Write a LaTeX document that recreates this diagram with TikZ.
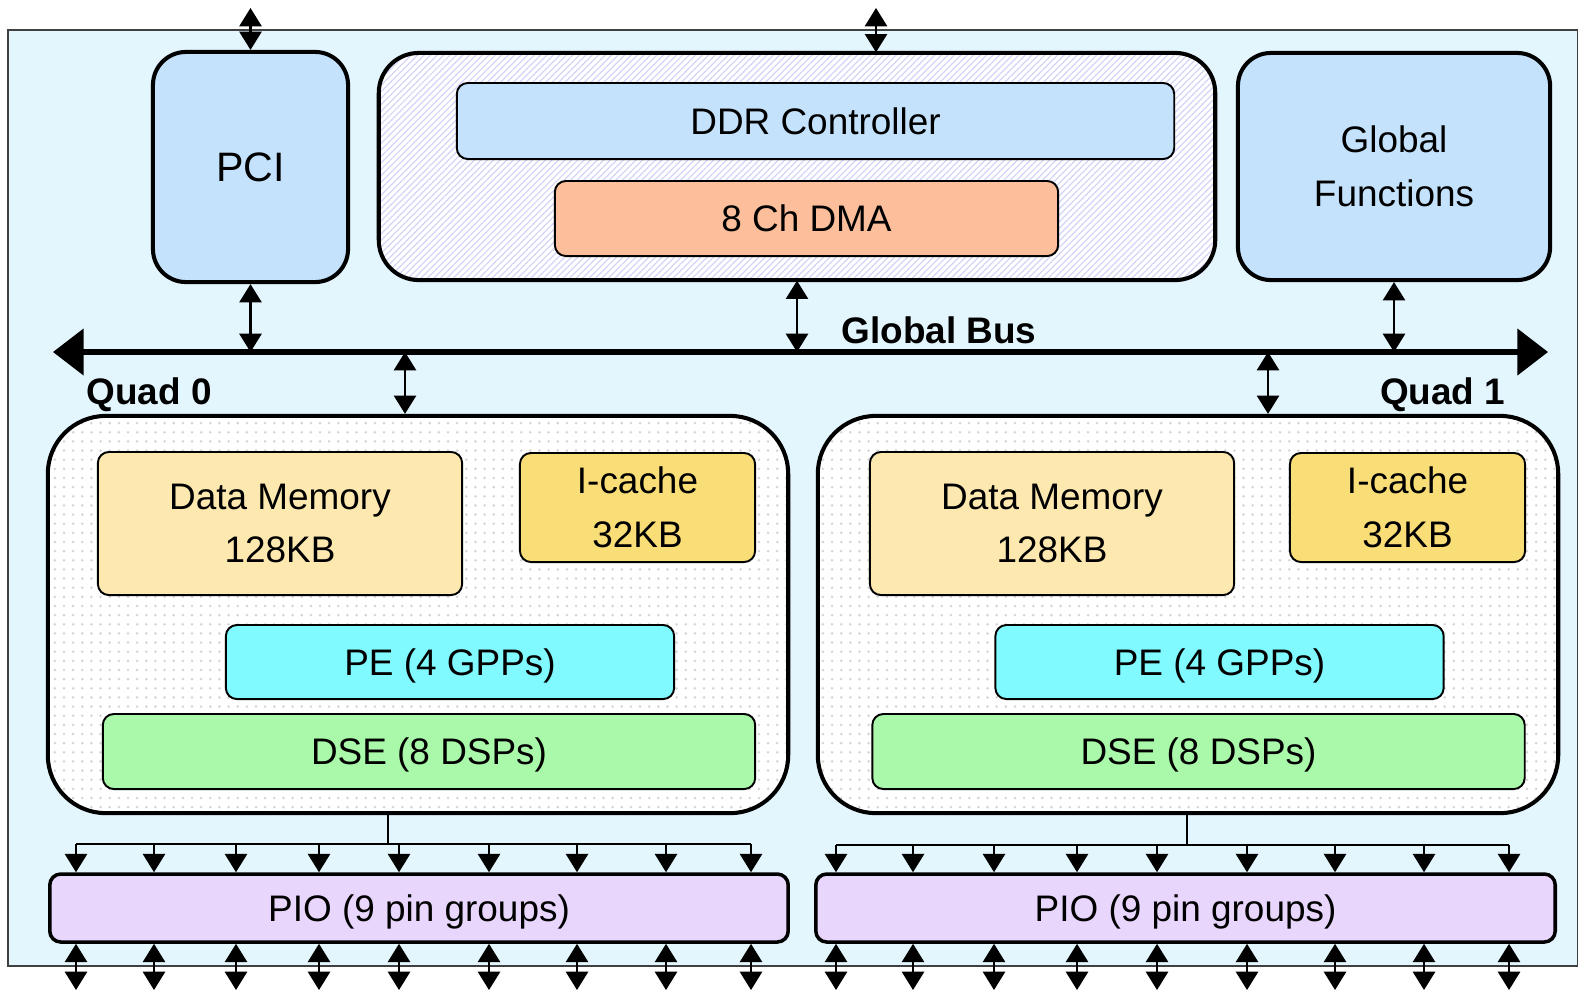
\documentclass[tikz,border=0pt]{standalone}
\usepackage{fontspec}
\setmainfont{Liberation Sans}
\usetikzlibrary{arrows.meta,positioning,patterns.meta}

\definecolor{fondpuce}{RGB}{227,245,253}
\definecolor{bleuclair}{RGB}{196,226,252}
\definecolor{saumon}{RGB}{253,190,156}
\definecolor{jaunepale}{RGB}{253,233,176}
\definecolor{jaune}{RGB}{249,221,119}
\definecolor{cyanpe}{RGB}{128,250,255}
\definecolor{vertdse}{RGB}{170,248,170}
\definecolor{mauve}{RGB}{232,214,252}
\definecolor{hachure}{RGB}{212,212,248}
\definecolor{points}{RGB}{212,212,212}

\begin{document}
\begin{tikzpicture}[
    x=0.01cm, y=-0.01cm,
    >={Triangle[length=5.2pt,width=6.3pt]},
    police/.style={
        font=\fontsize{10.5}{15.2}\selectfont
    },
    gras/.style={
        font=\fontsize{10.5}{15.2}\selectfont\bfseries,
        inner sep=0pt
    },
    bloc/.style={
        draw,
        rounded corners=0.33cm,
        line width=1.15pt,
        inner sep=0pt,
        align=center,
        police
    },
    petit/.style={
        draw,
        rounded corners=0.11cm,
        line width=0.55pt,
        inner sep=0pt,
        align=center,
        police
    },
    uneligne/.style={
        text depth=0pt
    },
    quad/.style={
        bloc,
        rounded corners=0.58cm,
        preaction={fill=white},
        pattern={Dots[distance=2.6pt,radius=0.4pt]},
        pattern color=points,
        minimum width=7.4cm,
        minimum height=3.97cm
    },
    pio/.style={
        bloc,
        uneligne,
        rounded corners=0.11cm,
        line width=1pt,
        fill=mauve,
        minimum height=0.68cm
    },
    fleche/.style={
        <->,
        line width=0.6pt
    },
    descente/.style={
        ->,
        line width=0.55pt
    },
    ligne/.style={
        line width=0.55pt
    },
    bus/.style={
        {Triangle[length=8.7pt,width=13pt]}-{Triangle[length=8.7pt,width=13pt]},
        line width=1.5pt
    }
]
\useasboundingbox (0,0) rectangle (1583,990);

% fond de la puce
\node[draw=black!75, line width=0.55pt, fill=fondpuce, minimum width=15.69cm,
      minimum height=9.36cm, inner sep=0pt] (puce) at (792.5,498) {};

% blocs du haut
\node[bloc, fill=bleuclair, minimum width=1.95cm, minimum height=2.3cm,
      font=\fontsize{11.7}{15}\selectfont] (pci) at (250.5,167) {PCI};

\node[bloc, rounded corners=0.4cm, preaction={fill=white},
      pattern={Lines[angle=45,distance=1.3pt,line width=0.35pt]}, pattern color=hachure,
      minimum width=8.36cm, minimum height=2.27cm] (ddr) at (797,166.5) {};
\node[petit, fill=bleuclair, minimum width=7.17cm, minimum height=0.76cm]
      (ddrc) at (815.5,121) {DDR Controller};
\node[petit, fill=saumon, minimum width=5.03cm, minimum height=0.75cm]
      (dma) at (806.5,218.5) {8 Ch DMA};

\node[bloc, fill=bleuclair, minimum width=3.12cm, minimum height=2.27cm]
      (gf) at (1394,166.5) {Global\\Functions};

% bus global
\coordinate (busg) at (53,352);
\coordinate (busd) at (1548,352);
\draw[bus] (busg) -- (busd);
\node[gras] (lbus) at (939,330) {Global Bus};

% quads
\node[quad] (quad0) at (418,614.5) {};
\node[quad] (quad1) at (1188,614.5) {};
\node[gras, anchor=west] (lq0) at (86,395) {Quad 0};
\node[gras, anchor=east] (lq1) at (1506,395) {Quad 1};

\node[petit, fill=jaunepale, minimum width=3.64cm, minimum height=1.43cm]
      (dm0) at (280,523.5) {Data Memory\\128KB};
\node[petit, fill=jaune, minimum width=2.35cm, minimum height=1.09cm]
      (ic0) at (637.5,507.5) {I-cache\\32KB};
\node[petit, uneligne, fill=cyanpe, minimum width=4.48cm, minimum height=0.74cm]
      (pe0) at (450,662) {PE (4 GPPs)};
\node[petit, uneligne, fill=vertdse, minimum width=6.52cm, minimum height=0.75cm]
      (dse0) at (429,751.5) {DSE (8 DSPs)};

\node[petit, fill=jaunepale, minimum width=3.64cm, minimum height=1.43cm]
      (dm1) at (1052,523.5) {Data Memory\\128KB};
\node[petit, fill=jaune, minimum width=2.35cm, minimum height=1.09cm]
      (ic1) at (1407.5,507.5) {I-cache\\32KB};
\node[petit, uneligne, fill=cyanpe, minimum width=4.48cm, minimum height=0.74cm]
      (pe1) at (1219.5,662) {PE (4 GPPs)};
\node[petit, uneligne, fill=vertdse, minimum width=6.52cm, minimum height=0.75cm]
      (dse1) at (1198.5,751.5) {DSE (8 DSPs)};

% PIO
\node[pio, minimum width=7.38cm] (pio0) at (419,908) {PIO (9 pin groups)};
\node[pio, minimum width=7.39cm] (pio1) at (1185.5,908) {PIO (9 pin groups)};

% liaisons vers l'exterieur
\coordinate (pcihaut) at (250.5,8);
\coordinate (ddrhaut) at (876,8);
\draw[fleche] (pcihaut) -- (pci.north);
\draw[fleche] (ddrhaut) -- (ddrhaut |- ddr.north);

% liaisons au bus
\draw[fleche] (pci.south) -- (pci.south |- busg);
\draw[fleche] (ddr.south) -- (ddr.south |- busg);
\draw[fleche] (gf.south) -- (gf.south |- busg);
\coordinate (q0haut) at (405,352);
\coordinate (q1haut) at (1268,352);
\draw[fleche] (q0haut) -- (q0haut |- quad0.north);
\draw[fleche] (q1haut) -- (q1haut |- quad1.north);

% broches
\coordinate (q0bas) at (388,844);
\coordinate (p0g) at (76,844);
\coordinate (p0d) at (751,844);
\draw[ligne] (q0bas |- quad0.south) -- (q0bas);
\draw[ligne] (p0g) -- (p0d);
\foreach \x in {76,154,236,319,399,489,577,666,751}{
    \draw[descente] (\x,844) -- (\x,0 |- pio0.north);
    \draw[fleche] (\x,0 |- pio0.south) -- (\x,990);
}

\coordinate (q1bas) at (1187,845);
\coordinate (p1g) at (836,845);
\coordinate (p1d) at (1509,845);
\draw[ligne] (q1bas |- quad1.south) -- (q1bas);
\draw[ligne] (p1g) -- (p1d);
\foreach \x in {836,913,994,1077,1157,1247,1335,1424,1509}{
    \draw[descente] (\x,845) -- (\x,0 |- pio1.north);
    \draw[fleche] (\x,0 |- pio1.south) -- (\x,990);
}

\end{tikzpicture}
\end{document}
